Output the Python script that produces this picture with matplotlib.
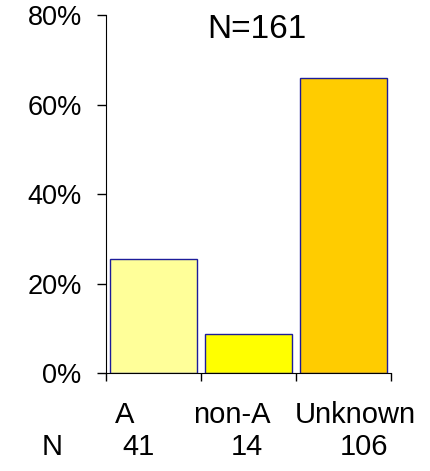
import matplotlib
matplotlib.use("Agg")
import matplotlib.pyplot as plt
from matplotlib.ticker import FuncFormatter

# data
categories = ["A", "non-A", "Unknown"]
counts = [41, 14, 106]
total = 161
colors = ["#FFFF99", "#FFFF00", "#FFCC00"]

percent = [c / total * 100 for c in counts]

plt.rcParams['font.family'] = ['Liberation Sans', 'DejaVu Sans']

fig = plt.figure(figsize=(4.31, 4.71), dpi=100)
ax = fig.add_axes([0.246, 0.208, 0.661, 0.760])

x = [i + 0.5 for i in range(len(categories))]
ax.bar(x, percent, width=0.91, color=colors, edgecolor="#1c1c9a", linewidth=1.0)

ax.set_xlim(0, 3)
ax.set_ylim(0, 80)
ax.set_yticks([0, 20, 40, 60, 80])
ax.yaxis.set_major_formatter(FuncFormatter(lambda v, p: f"{v:.0f}%"))
ax.set_xticks([0, 1, 2, 3])
ax.set_xticklabels([])
ax.tick_params(axis='y', direction='out', length=6.5, width=1, pad=11, labelsize=19.5)
ax.tick_params(axis='x', direction='out', length=6, width=1)

for s in ["top", "right"]:
    ax.spines[s].set_visible(False)

# title inside the plot area
ax.text(1.59, 74.9, f"N={total}", ha="center", va="baseline", fontsize=24)

# category labels and counts below the axis (offset like the original)
label_x = [0.20, 1.33, 2.62]
count_x = [0.34, 1.48, 2.72]
for lx, cx, cat, n in zip(label_x, count_x, categories, counts):
    ax.text(lx, -11.2, cat, ha="center", va="baseline", fontsize=21, clip_on=False)
    ax.text(cx, -18.3, str(n), ha="center", va="baseline", fontsize=21, clip_on=False)
ax.text(-0.57, -18.3, "N", ha="center", va="baseline", fontsize=21, clip_on=False)

fig.savefig("out.png", dpi=100)
